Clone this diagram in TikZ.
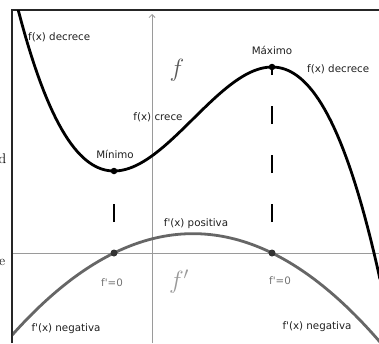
\documentclass[tikz,border=0pt]{standalone}
\usepackage{fontspec}
\newfontfamily\labfont{DejaVu Sans}
\usetikzlibrary{arrows.meta}
\definecolor{fgray}{HTML}{666666}
\definecolor{axgray}{HTML}{9A9A9A}
\tikzset{
  lab/.style={font=\labfont\fontsize{10.3}{12}\selectfont, text=black!88, inner sep=0pt},
  zlab/.style={font=\labfont\fontsize{10.3}{12}\selectfont, text=black!55, inner sep=0pt},
  frameline/.style={line width=1.5pt, black!85},
  axisline/.style={line width=0.9pt, axgray},
  fline/.style={line width=2.8pt, black, line join=round},
  dline/.style={line width=2.8pt, fgray},
  dashv/.style={line width=2pt, black, dash pattern=on 18pt off 31pt, dash phase=18pt},
  dotb/.style={circle, fill=black, inner sep=0pt, minimum size=6.5pt},
  dotg/.style={circle, fill=black!80, inner sep=0pt, minimum size=7pt},
}
\begin{document}
\begin{tikzpicture}[x=1pt,y=-1pt]
\useasboundingbox (0,0) rectangle (379,343);
% coordinates
\coordinate (ytop) at (152,14);
\coordinate (ybot) at (152,343);
\coordinate (xl) at (13,253);
\coordinate (xr) at (379,253);
\coordinate (fl) at (12,343);
\coordinate (ftl) at (12,10);
\coordinate (ftr) at (379,10);
\coordinate (zA) at (114,253);
\coordinate (zB) at (272,253);
\coordinate (mA) at (114,171);
\coordinate (mB) at (272,67);
% frame
\draw[frameline] (fl) -- (ftl) -- (ftr);
% axes
\draw[axisline] (xl) -- (xr);
\draw[axisline, -{Straight Barb[length=3pt,width=6pt,line width=0.8pt]}] (ybot) -- (ytop);
% dashed verticals
\draw[dashv] (zA) -- (mA);
\draw[dashv] (zB) -- (mB);
% curves
\begin{scope}
\clip (12.8,10.8) rectangle (379,343);
\draw[dline] plot[domain=12:380, samples=90]
  (\x, {253+31*((\x-114)/100)*((\x-114)/100-1.58)});
\draw[fline] plot[domain=16:380, samples=120]
  (\x, {171+158.2*(((\x-114)/100)*((\x-114)/100)*((\x-114)/100)/3-0.79*((\x-114)/100)*((\x-114)/100))});
\end{scope}
% points
\node[dotb] (minp) at (mA) {};
\node[dotb] (maxp) at (mB) {};
\node[dotg] (z1) at (zA) {};
\node[dotg] (z2) at (zB) {};
% labels
\node[lab, anchor=west] (t1) at (28,37) {f(x) decrece};
\node[lab, anchor=west] (t2) at (307,69) {f(x) decrece};
\node[lab] (t3) at (272,50) {Máximo};
\node[lab] (t4) at (115,154) {Mínimo};
\node[lab] (t5) at (158,117) {f(x) crece};
\node[lab] (t6) at (196,224) {f'(x) positiva};
\node[zlab] (t7) at (112,283) {f'=0};
\node[zlab] (t8) at (280,281) {f'=0};
\node[lab] (t9) at (66,329) {f'(x) negativa};
\node[lab] (t10) at (317,327) {f'(x) negativa};
\node[text=black!65, inner sep=0pt, font=\fontsize{27}{30}\selectfont] (bigf) at (177,70) {$f$};
\node[text=black!40, inner sep=0pt, font=\fontsize{27}{30}\selectfont] (bigfp) at (179,282) {$f'$};
% cut-off fragments at left edge
\node[anchor=east, inner sep=0pt, font=\fontsize{14}{16}\selectfont] (fragd) at (6.5,159) {d};
\node[anchor=east, inner sep=0pt, font=\fontsize{14}{16}\selectfont] (frage) at (5.5,262) {e};
\end{tikzpicture}
\end{document}
